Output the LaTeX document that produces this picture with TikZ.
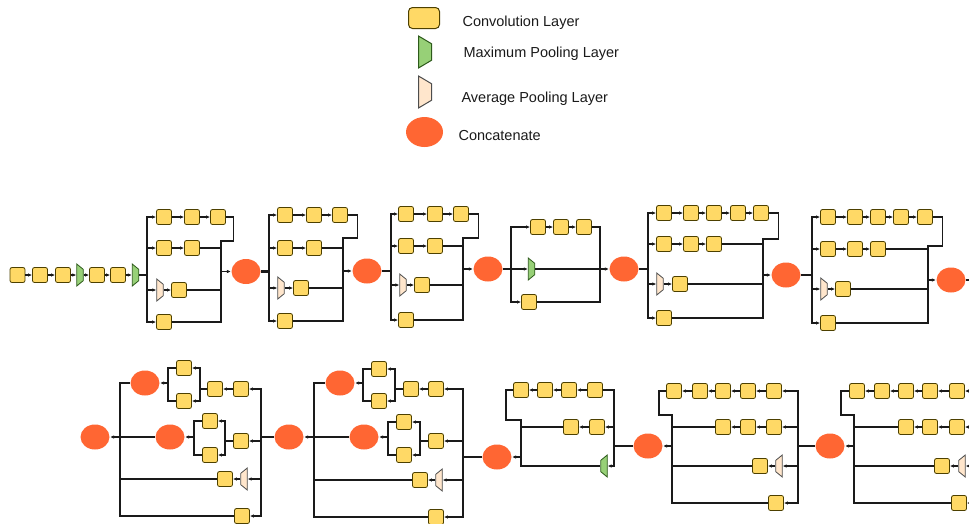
\documentclass[tikz,border=0pt]{standalone}
\usepackage{fontspec}
\setmainfont{Liberation Sans}
\usepackage{tikz}
\usetikzlibrary{shapes.geometric,arrows.meta}

\definecolor{convfill}{HTML}{FFD966}
\definecolor{convline}{HTML}{4D4000}
\definecolor{maxfill}{HTML}{97D077}
\definecolor{maxline}{HTML}{2D5A1B}
\definecolor{avgfill}{HTML}{FFE6CC}
\definecolor{avgline}{HTML}{4D4D4D}
\definecolor{catfill}{HTML}{FF6633}
\definecolor{wire}{HTML}{1A1A1A}

\tikzset{
  conv/.style={draw=convline, fill=convfill, rounded corners=2pt, line width=0.8pt, minimum width=15pt, minimum height=15pt, inner sep=0pt},
  pool/.style={trapezium, trapezium angle=65, trapezium stretches=true, line width=0.8pt, minimum width=22pt, minimum height=6.5pt, inner sep=0.3pt},
  maxpool/.style={pool, draw=maxline, fill=maxfill},
  avgpool/.style={pool, draw=avgline, fill=avgfill},
  fwd/.style={rotate=-90},
  bwd/.style={rotate=90},
  concat/.style={ellipse, fill=catfill, minimum width=29pt, minimum height=25pt, inner sep=0pt},
  legtext/.style={anchor=base west, font=\fontsize{14.5pt}{17pt}\selectfont, inner sep=0pt},
  thickwire/.style={line width=2.4pt}
}

\begin{document}
\begin{tikzpicture}[x=1pt,y=-1pt,>={Latex[length=4pt,width=3.5pt]},line width=1.1pt,color=wire]
        \useasboundingbox (0,0) rectangle (969,523);
        \clip (0,0) rectangle (969,523);

        \node[conv, minimum width=31pt, minimum height=21pt, rounded corners=4pt, line width=1pt] (lgconv) at (424,18) {};
        \node[maxpool, fwd, minimum width=32pt, minimum height=13pt, line width=1pt] (lgmax) at (425,52) {};
        \node[avgpool, fwd, minimum width=32pt, minimum height=13pt, line width=1pt] (lgavg) at (425,92) {};
        \node[concat, minimum width=37pt, minimum height=30pt] (lgcat) at (424.5,132) {};
        \node[legtext] (lgconvtxt) at (462,26) {Convolution Layer};
        \node[legtext] (lgmaxtxt) at (463,57) {Maximum Pooling Layer};
        \node[legtext] (lgavgtxt) at (461,102) {Average Pooling Layer};
        \node[legtext] (lgcattxt) at (458,140) {Concatenate};

        \node[conv] (s1) at (17.5,275) {};
        \node[conv] (s2) at (40,275) {};
        \node[conv] (s3) at (63,275) {};
        \node[maxpool, fwd] (s4) at (80,275) {};
        \node[conv] (s5) at (97,275) {};
        \node[conv] (s6) at (118,275) {};
        \node[maxpool, fwd] (s7) at (135.5,275) {};

        \coordinate (a1in) at (147,275);
        \node[conv] (a1a1) at (164,217) {};
        \node[conv] (a1a2) at (192,217) {};
        \node[conv] (a1a3) at (218,217) {};
        \node[conv] (a1b1) at (164,248) {};
        \node[conv] (a1b2) at (192,248) {};
        \node[avgpool, fwd] (a1c1) at (160,290) {};
        \node[conv] (a1c2) at (179,290) {};
        \node[conv] (a1d1) at (164,322) {};
        \coordinate (a1m) at (221,271.5);
        \node[concat] (cat1) at (246,271.5) {};

        \coordinate (a2in) at (269,271.5);
        \node[conv] (a2a1) at (285,215) {};
        \node[conv] (a2a2) at (314,215) {};
        \node[conv] (a2a3) at (340,215) {};
        \node[conv] (a2b1) at (285,248) {};
        \node[conv] (a2b2) at (314,248) {};
        \node[avgpool, fwd] (a2c1) at (281,288) {};
        \node[conv] (a2c2) at (301,288) {};
        \node[conv] (a2d1) at (285,321) {};
        \coordinate (a2m) at (343,271);
        \node[concat] (cat2) at (367,271) {};

        \coordinate (a3in) at (391,271);
        \node[conv] (a3a1) at (406,214) {};
        \node[conv] (a3a2) at (435,214) {};
        \node[conv] (a3a3) at (461,214) {};
        \node[conv] (a3b1) at (406,246) {};
        \node[conv] (a3b2) at (435,246) {};
        \node[avgpool, fwd] (a3c1) at (403,285) {};
        \node[conv] (a3c2) at (422,285) {};
        \node[conv] (a3d1) at (406,320) {};
        \coordinate (a3m) at (463,269);
        \node[concat] (cat3) at (488,269) {};

        \coordinate (r1in) at (511,269);
        \node[conv] (r1a1) at (538,227) {};
        \node[conv] (r1a2) at (561,227) {};
        \node[conv] (r1a3) at (584,227) {};
        \node[maxpool, fwd] (r1c1) at (531.5,269) {};
        \node[conv] (r1b1) at (529,302) {};
        \coordinate (r1m) at (600,269);
        \node[concat] (cat4) at (624,269) {};

        \coordinate (b1in) at (648,269);
        \node[conv] (b1a1) at (664,213) {};
        \node[conv] (b1a2) at (691,213) {};
        \node[conv] (b1a3) at (714,213) {};
        \node[conv] (b1a4) at (738,213) {};
        \node[conv] (b1a5) at (761,213) {};
        \node[conv] (b1b1) at (664,244) {};
        \node[conv] (b1b2) at (691,244) {};
        \node[conv] (b1b3) at (714,244) {};
        \node[avgpool, fwd] (b1c1) at (660,284) {};
        \node[conv] (b1c2) at (680,284) {};
        \node[conv] (b1d1) at (664,318) {};
        \coordinate (b1m) at (763,275);
        \node[concat] (cat5) at (786,275) {};

        \coordinate (b2in) at (812,275);
        \node[conv] (b2a1) at (828,217) {};
        \node[conv] (b2a2) at (855,217) {};
        \node[conv] (b2a3) at (878,217) {};
        \node[conv] (b2a4) at (901,217) {};
        \node[conv] (b2a5) at (925,217) {};
        \node[conv] (b2b1) at (828,249) {};
        \node[conv] (b2b2) at (855,249) {};
        \node[conv] (b2b3) at (878,249) {};
        \node[avgpool, fwd] (b2c1) at (824,289) {};
        \node[conv] (b2c2) at (843,289) {};
        \node[conv] (b2d1) at (828,323) {};
        \coordinate (b2m) at (928,280);
        \node[concat] (cat6) at (951,280) {};
        \coordinate (b2out) at (985,280);

        \node[concat] (cat7) at (95,437) {};
        \coordinate (c1in) at (120,437);
        \node[concat] (c1x) at (145,383) {};
        \node[concat] (c1y) at (170,437) {};
        \coordinate (c1s1) at (168,383);
        \node[conv] (c1a1) at (184,368) {};
        \node[conv] (c1a2) at (184,401) {};
        \coordinate (c1s2) at (200,389);
        \node[conv] (c1a3) at (215,389) {};
        \node[conv] (c1a4) at (241,389) {};
        \coordinate (c1s3) at (194,437);
        \node[conv] (c1b1) at (210,421) {};
        \node[conv] (c1b2) at (210,455) {};
        \coordinate (c1s4) at (225,441);
        \node[conv] (c1b3) at (241,441) {};
        \node[conv] (c1c1) at (225,479) {};
        \node[avgpool, bwd] (c1c2) at (244,479) {};
        \node[conv] (c1d1) at (242,516) {};
        \coordinate (c1out) at (261,437);
        \node[concat] (cat8) at (289,437) {};

        \coordinate (c2in) at (314,437);
        \node[concat] (c2x) at (340,383) {};
        \node[concat] (c2y) at (364,437) {};
        \coordinate (c2s1) at (363,383);
        \node[conv] (c2a1) at (379,369) {};
        \node[conv] (c2a2) at (379,401) {};
        \coordinate (c2s2) at (395,389);
        \node[conv] (c2a3) at (411,389) {};
        \node[conv] (c2a4) at (436,389) {};
        \coordinate (c2s3) at (388,437);
        \node[conv] (c2b1) at (404,422) {};
        \node[conv] (c2b2) at (404,455) {};
        \coordinate (c2s4) at (420,441);
        \node[conv] (c2b3) at (436,441) {};
        \node[conv] (c2c1) at (420,480) {};
        \node[avgpool, bwd] (c2c2) at (439,480) {};
        \node[conv] (c2d1) at (436,517) {};
        \coordinate (c2out) at (463,457);
        \node[concat] (cat9) at (497,457) {};

        \coordinate (c3in) at (521,457);
        \node[conv] (r2a1) at (521,390) {};
        \node[conv] (r2a2) at (545,390) {};
        \node[conv] (r2a3) at (569,390) {};
        \node[conv] (r2a4) at (595,390) {};
        \node[conv] (r2b1) at (571,427) {};
        \node[conv] (r2b2) at (597,427) {};
        \node[maxpool, bwd] (r2c1) at (604,466) {};
        \coordinate (c3out) at (614,446);
        \node[concat] (cat10) at (648,446) {};

        \coordinate (c4in) at (672,446);
        \node[conv] (r3a1) at (674,391) {};
        \node[conv] (r3a2) at (700,391) {};
        \node[conv] (r3a3) at (723,391) {};
        \node[conv] (r3a4) at (748,391) {};
        \node[conv] (r3a5) at (774,391) {};
        \node[conv] (r3b1) at (723,427) {};
        \node[conv] (r3b2) at (748,427) {};
        \node[conv] (r3b3) at (774,427) {};
        \node[conv] (r3c1) at (760,466) {};
        \node[avgpool, bwd] (r3c2) at (779,466) {};
        \node[conv] (r3d1) at (776,503) {};
        \coordinate (c4out) at (798,446);
        \node[concat] (cat11) at (830,446) {};

        \coordinate (c5in) at (854,446);
        \node[conv] (r4a1) at (857,391) {};
        \node[conv] (r4a2) at (882,391) {};
        \node[conv] (r4a3) at (906,391) {};
        \node[conv] (r4a4) at (930,391) {};
        \node[conv] (r4a5) at (957,391) {};
        \node[conv] (r4b1) at (906,427) {};
        \node[conv] (r4b2) at (930,427) {};
        \node[conv] (r4b3) at (957,427) {};
        \node[conv] (r4c1) at (942,466) {};
        \node[avgpool, bwd] (r4c2) at (962,466) {};
        \node[conv] (r4d1) at (959,503) {};
        \coordinate (c5out) at (985,446);

        \draw[->] (s1) -- (s2);
        \draw[->] (s2) -- (s3);
        \draw[->] (s3) -- (s4);
        \draw[->] (s4) -- (s5);
        \draw[->] (s5) -- (s6);
        \draw[->] (s6) -- (s7);
        \draw[thickwire] (s7) -- (a1in);

        \draw[->] (a1in) |- (a1a1);
        \draw[->] (a1in) |- (a1b1);
        \draw[->] (a1in) |- (a1c1);
        \draw[->] (a1in) |- (a1d1);
        \draw[->] (a1a1) -- (a1a2);
        \draw[->] (a1a2) -- (a1a3);
        \draw[->] (a1b1) -- (a1b2);
        \draw[->] (a1c1) -- (a1c2);
        \draw (a1a3.east) -| ++(8,24) -| (a1m);
        \draw (a1b2) -| (a1m);
        \draw (a1c2) -| (a1m);
        \draw (a1d1) -| (a1m);
        \draw[->] (a1m) -- (cat1);
        \draw[thickwire] (cat1) -- (a2in);

        \draw[->] (a2in) |- (a2a1);
        \draw[->] (a2in) |- (a2b1);
        \draw[->] (a2in) |- (a2c1);
        \draw[->] (a2in) |- (a2d1);
        \draw[->] (a2a1) -- (a2a2);
        \draw[->] (a2a2) -- (a2a3);
        \draw[->] (a2b1) -- (a2b2);
        \draw[->] (a2c1) -- (a2c2);
        \draw (a2a3.east) -| ++(9.5,23) -| (a2m);
        \draw (a2b2) -| (a2m);
        \draw (a2c2) -| (a2m);
        \draw (a2d1) -| (a2m);
        \draw[->] (a2m) -- (cat2);
        \draw[thickwire] (cat2) -- (a3in);

        \draw[->] (a3in) |- (a3a1);
        \draw[->] (a3in) |- (a3b1);
        \draw[->] (a3in) |- (a3c1);
        \draw[->] (a3in) |- (a3d1);
        \draw[->] (a3a1) -- (a3a2);
        \draw[->] (a3a2) -- (a3a3);
        \draw[->] (a3b1) -- (a3b2);
        \draw[->] (a3c1) -- (a3c2);
        \draw (a3a3.east) -| ++(9.5,24) -| (a3m);
        \draw (a3b2) -| (a3m);
        \draw (a3c2) -| (a3m);
        \draw (a3d1) -| (a3m);
        \draw[->] (a3m) -- (cat3);

        \draw (cat3) -- (r1in);
        \draw[->] (r1in) -- (r1c1);
        \draw[->] (r1in) |- (r1a1);
        \draw[->] (r1in) |- (r1b1);
        \draw[->] (r1a1) -- (r1a2);
        \draw[->] (r1a2) -- (r1a3);
        \draw (r1a3) -| (r1m);
        \draw (r1b1) -| (r1m);
        \draw[->] (r1c1) -- (cat4);
        \draw[thickwire] (cat4) -- (b1in);

        \draw[->] (b1in) |- (b1a1);
        \draw[->] (b1in) |- (b1b1);
        \draw[->] (b1in) |- (b1c1);
        \draw[->] (b1in) |- (b1d1);
        \draw[->] (b1a1) -- (b1a2);
        \draw[->] (b1a2) -- (b1a3);
        \draw[->] (b1a3) -- (b1a4);
        \draw[->] (b1a4) -- (b1a5);
        \draw[->] (b1b1) -- (b1b2);
        \draw[->] (b1b2) -- (b1b3);
        \draw[->] (b1c1) -- (b1c2);
        \draw (b1a5.east) -| ++(9.5,26) -| (b1m);
        \draw (b1b3) -| (b1m);
        \draw (b1c2) -| (b1m);
        \draw (b1d1) -| (b1m);
        \draw[->] (b1m) -- (cat5);
        \draw[thickwire] (cat5) -- (b2in);

        \draw[->] (b2in) |- (b2a1);
        \draw[->] (b2in) |- (b2b1);
        \draw[->] (b2in) |- (b2c1);
        \draw[->] (b2in) |- (b2d1);
        \draw[->] (b2a1) -- (b2a2);
        \draw[->] (b2a2) -- (b2a3);
        \draw[->] (b2a3) -- (b2a4);
        \draw[->] (b2a4) -- (b2a5);
        \draw[->] (b2b1) -- (b2b2);
        \draw[->] (b2b2) -- (b2b3);
        \draw[->] (b2c1) -- (b2c2);
        \draw (b2a5.east) -| ++(9.5,29) -| (b2m);
        \draw (b2b3) -| (b2m);
        \draw (b2c2) -| (b2m);
        \draw (b2d1) -| (b2m);
        \draw[->] (b2m) -- (cat6);
        \draw (cat6) -- (b2out);

        \draw[->] (c1in) -- (cat7);
        \draw (c1in) |- (c1x);
        \draw (c1in) -- (c1y);
        \draw (c1in) |- (c1c1);
        \draw (c1in) |- (c1d1);
        \draw[->] (c1s1) -- (c1x);
        \draw (c1a1) -| (c1s1);
        \draw (c1a2) -| (c1s1);
        \draw[->] (c1s2) |- (c1a1);
        \draw[->] (c1s2) |- (c1a2);
        \draw (c1a3) -- (c1s2);
        \draw[->] (c1a4) -- (c1a3);
        \draw[->] (c1s3) -- (c1y);
        \draw (c1b1) -| (c1s3);
        \draw (c1b2) -| (c1s3);
        \draw[->] (c1s4) |- (c1b1);
        \draw[->] (c1s4) |- (c1b2);
        \draw (c1b3) -- (c1s4);
        \draw[->] (c1c2) -- (c1c1);
        \draw[->] (c1out) |- (c1a4);
        \draw[->] (c1out) |- (c1b3);
        \draw[->] (c1out) |- (c1c2);
        \draw[->] (c1out) |- (c1d1);
        \draw (cat8) -- (c1out);

        \draw[->] (c2in) -- (cat8);
        \draw (c2in) |- (c2x);
        \draw (c2in) -- (c2y);
        \draw (c2in) |- (c2c1);
        \draw (c2in) |- (c2d1);
        \draw[->] (c2s1) -- (c2x);
        \draw (c2a1) -| (c2s1);
        \draw (c2a2) -| (c2s1);
        \draw[->] (c2s2) |- (c2a1);
        \draw[->] (c2s2) |- (c2a2);
        \draw (c2a3) -- (c2s2);
        \draw[->] (c2a4) -- (c2a3);
        \draw[->] (c2s3) -- (c2y);
        \draw (c2b1) -| (c2s3);
        \draw (c2b2) -| (c2s3);
        \draw[->] (c2s4) |- (c2b1);
        \draw[->] (c2s4) |- (c2b2);
        \draw (c2b3) -- (c2s4);
        \draw[->] (c2c2) -- (c2c1);
        \draw[->] (c2out) |- (c2a4);
        \draw[->] (c2out) |- (c2b3);
        \draw[->] (c2out) |- (c2c2);
        \draw[->] (c2out) |- (c2d1);
        \draw (cat9) -- (c2out);

        \draw[->] (c3in) -- (cat9);
        \draw (c3in) |- ++(-15,-37) |- (r2a1);
        \draw (c3in) |- (r2b1);
        \draw (c3in) |- (r2c1);
        \draw[->] (r2a4) -- (r2a3);
        \draw[->] (r2a3) -- (r2a2);
        \draw[->] (r2a2) -- (r2a1);
        \draw[->] (r2b2) -- (r2b1);
        \draw (c3out) |- (r2a4);
        \draw[->] (c3out) |- (r2b2);
        \draw[->] (c3out) |- (r2c1);
        \draw[thickwire] (cat10) -- (c3out);

        \draw[->] (c4in) -- (cat10);
        \draw (c4in) |- ++(-13,-31) |- (r3a1);
        \draw (c4in) |- (r3b1);
        \draw (c4in) |- (r3c1);
        \draw (c4in) |- (r3d1);
        \draw[->] (r3a5) -- (r3a4);
        \draw[->] (r3a4) -- (r3a3);
        \draw[->] (r3a3) -- (r3a2);
        \draw[->] (r3a2) -- (r3a1);
        \draw[->] (r3b3) -- (r3b2);
        \draw[->] (r3b2) -- (r3b1);
        \draw[->] (r3c2) -- (r3c1);
        \draw[->] (c4out) |- (r3a5);
        \draw[->] (c4out) |- (r3b3);
        \draw[->] (c4out) |- (r3c2);
        \draw[->] (c4out) |- (r3d1);
        \draw (cat11) -- (c4out);

        \draw[->] (c5in) -- (cat11);
        \draw (c5in) |- ++(-13,-31) |- (r4a1);
        \draw (c5in) |- (r4b1);
        \draw (c5in) |- (r4c1);
        \draw (c5in) |- (r4d1);
        \draw[->] (r4a5) -- (r4a4);
        \draw[->] (r4a4) -- (r4a3);
        \draw[->] (r4a3) -- (r4a2);
        \draw[->] (r4a2) -- (r4a1);
        \draw[->] (r4b3) -- (r4b2);
        \draw[->] (r4b2) -- (r4b1);
        \draw[->] (r4c2) -- (r4c1);
        \draw[->] (c5out) |- (r4a5);
        \draw[->] (c5out) |- (r4b3);
        \draw[->] (c5out) |- (r4c2);
        \draw[->] (c5out) |- (r4d1);
    \end{tikzpicture}
\end{document}
